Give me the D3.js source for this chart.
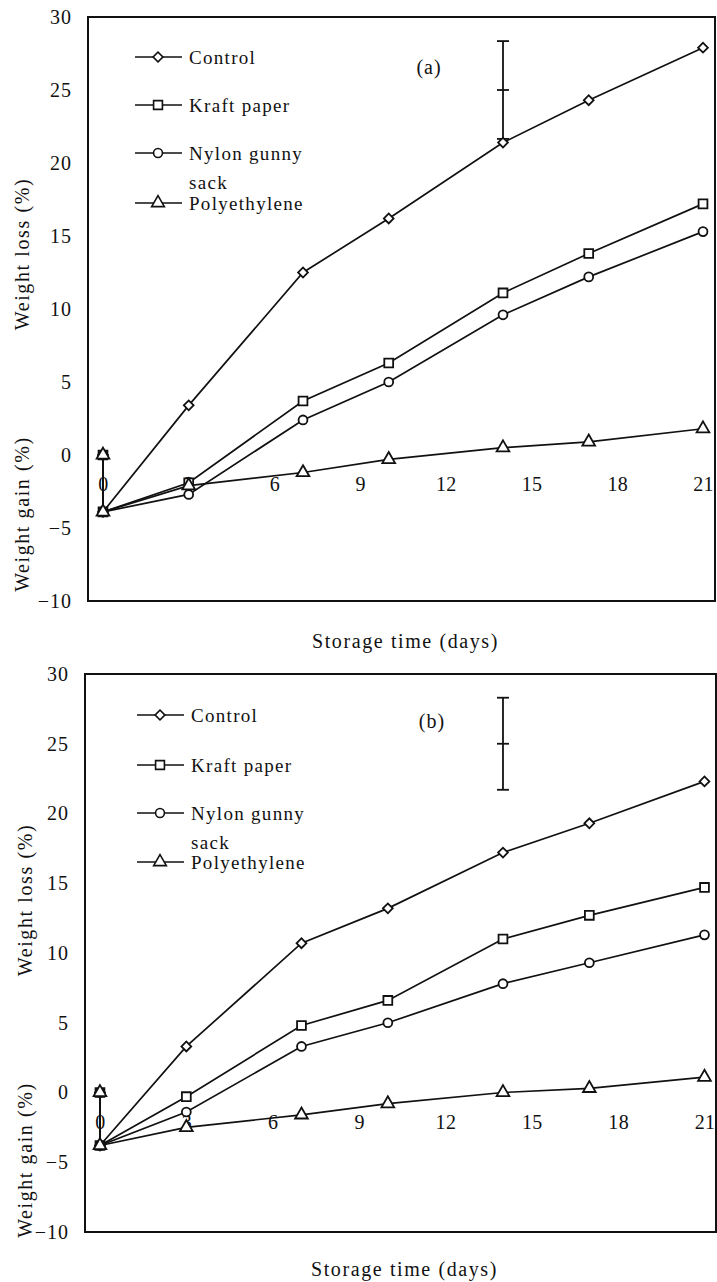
<!DOCTYPE html>
<html lang="en">
<head>
  <meta charset="UTF-8">
  <title>Weight loss during storage</title>
  <script src="https://cdn.jsdelivr.net/npm/d3@7"></script>
  <style>
    body { margin: 0; background: #fff; }
    svg text {
      font-family: "Liberation Serif", "Times New Roman", serif;
      fill: #111;
    }
    .tick-label { font-size: 20px; letter-spacing: 1px; }
    .x-tick { letter-spacing: 0.3px; }
    .axis-title { font-size: 20px; letter-spacing: 1.6px; }
    .legend-label { font-size: 19px; letter-spacing: 1.3px; }
    .panel-label { font-size: 20px; letter-spacing: 1px; }
  </style>
</head>
<body>
  <div id="chart"></div>

  <script>
    // Storage days (day 0 appears twice: start value and first reading)
    const days = [0, 0, 3, 7, 10, 14, 17, 21];
    const xTicks = [0, 3, 6, 9, 12, 15, 18, 21];
    const yTicks = [-10, -5, 0, 5, 10, 15, 20, 25, 30];
    const seriesNames = ['Control', 'Kraft paper', 'Nylon gunny sack', 'Polyethylene'];

    // Panel (a)
    const controlA = [0, -3.9, 3.4, 12.5, 16.2, 21.4, 24.3, 27.9];
    const kraftA   = [0, -3.9, -1.9, 3.7, 6.3, 11.1, 13.8, 17.2];
    const nylonA   = [0, -3.9, -2.7, 2.4, 5.0, 9.6, 12.2, 15.3];
    const polyA    = [0, -3.9, -2.1, -1.2, -0.3, 0.5, 0.9, 1.8];
    const lsdA     = [14, 25, 3.35];   // day, centre, half length

    // Panel (b)
    const controlB = [0, -3.8, 3.3, 10.7, 13.2, 17.2, 19.3, 22.3];
    const kraftB   = [0, -3.8, -0.3, 4.8, 6.6, 11.0, 12.7, 14.7];
    const nylonB   = [0, -3.8, -1.4, 3.3, 5.0, 7.8, 9.3, 11.3];
    const polyB    = [0, -3.8, -2.5, -1.6, -0.8, 0.0, 0.3, 1.1];
    const lsdB     = [14, 25, 3.3];

    // diamond = square turned 45 degrees
    const symbols = [d3.symbolSquare, d3.symbolSquare, d3.symbolCircle, d3.symbolTriangle];
    const symbolSizes = [48, 78, 62, 70];
    const symbolTurn = [45, 0, 0, 0];

    const svg = d3.select('#chart')
      .append('svg')
        .attr('width', 717)
        .attr('height', 1282);

    drawPanel({
      label: '(a)',
      series: [controlA, kraftA, nylonA, polyA],
      lsd: lsdA,
      left: 88, right: 715, top: 17, bottom: 601,
      xDomain: [-0.525, 21.42],
      lossTitleY: 254, gainTitleY: 514, titleX: 22,
      xTitleY: 648,
      labelPos: [429, 74],
      legend: { x: 135, ys: [57, 105, 153, 203], sackY: 182 }
    });

    drawPanel({
      label: '(b)',
      series: [controlB, kraftB, nylonB, polyB],
      lsd: lsdB,
      left: 85, right: 716, top: 674, bottom: 1232,
      xDomain: [-0.52, 21.4],
      lossTitleY: 900, gainTitleY: 1160, titleX: 25,
      xTitleY: 1276,
      labelPos: [432, 728],
      legend: { x: 137, ys: [715, 765, 813, 862], sackY: 842 }
    });

    function marker(si) {
      return d3.symbol().type(symbols[si]).size(symbolSizes[si])();
    }

    function drawPanel(p) {
      const x = d3.scaleLinear().domain(p.xDomain).range([p.left, p.right]);
      const y = d3.scaleLinear().domain([-10, 30]).range([p.bottom, p.top]);
      const g = svg.append('g');

      // Frame
      g.append('rect')
        .attr('x', p.left).attr('y', p.top)
        .attr('width', p.right - p.left).attr('height', p.bottom - p.top)
        .attr('fill', 'none').attr('stroke', '#111').attr('stroke-width', 2);

      // Y axis labels
      const yAxis = g.append('g')
        .attr('transform', `translate(${p.left},0)`)
        .call(d3.axisLeft(y).tickValues(yTicks).tickSize(0).tickPadding(16));
      yAxis.select('.domain').remove();
      yAxis.selectAll('text').attr('class', 'tick-label').attr('font-family', null).attr('font-size', null);

      // X axis labels sit along zero line (no line drawn)
      const xAxis = g.append('g')
        .attr('transform', `translate(0,${y(0)})`)
        .call(d3.axisBottom(x).tickValues(xTicks).tickSize(0).tickPadding(22));
      xAxis.select('.domain').remove();
      xAxis.selectAll('text').attr('class', 'tick-label x-tick').attr('font-family', null).attr('font-size', null);

      // Axis titles
      g.append('text').attr('class', 'axis-title')
        .attr('transform', `translate(${p.titleX},${p.lossTitleY}) rotate(-90)`)
        .attr('text-anchor', 'middle').attr('dy', '0.35em')
        .text('Weight loss (%)');
      g.append('text').attr('class', 'axis-title')
        .attr('transform', `translate(${p.titleX},${p.gainTitleY}) rotate(-90)`)
        .attr('text-anchor', 'middle').attr('dy', '0.35em')
        .text('Weight gain (%)');
      g.append('text').attr('class', 'axis-title')
        .attr('x', (p.left + p.right) / 2 + 4).attr('y', p.xTitleY)
        .attr('text-anchor', 'middle')
        .text('Storage time (days)');

      // Panel label
      g.append('text').attr('class', 'panel-label')
        .attr('x', p.labelPos[0]).attr('y', p.labelPos[1])
        .attr('text-anchor', 'middle')
        .text(p.label);

      // LSD bar
      const [ed, em, eh] = p.lsd;
      const bar = g.append('g').attr('stroke', '#111').attr('stroke-width', 1.8);
      bar.append('line')
        .attr('x1', x(ed)).attr('x2', x(ed))
        .attr('y1', y(em + eh)).attr('y2', y(em - eh));
      [em + eh, em, em - eh].forEach(v => {
        bar.append('line')
          .attr('x1', x(ed) - 6).attr('x2', x(ed) + 6)
          .attr('y1', y(v)).attr('y2', y(v));
      });

      // Lines
      const line = d3.line().x((d, i) => x(days[i])).y(d => y(d));
      g.append('g').selectAll('path')
        .data(p.series)
        .enter()
        .append('path')
          .attr('d', d => line(d))
          .attr('fill', 'none')
          .attr('stroke', '#111')
          .attr('stroke-width', 1.7);

      // Markers
      p.series.forEach((vals, si) => {
        g.append('g').selectAll('path')
          .data(vals)
          .enter()
          .append('path')
            .attr('d', marker(si))
            .attr('transform', (d, i) => `translate(${x(days[i])},${y(d)}) rotate(${symbolTurn[si]})`)
            .attr('fill', '#fff')
            .attr('stroke', '#111')
            .attr('stroke-width', 1.8);
      });

      // Legend
      const lg = p.legend;
      p.series.forEach((vals, si) => {
        const ly = lg.ys[si];
        g.append('line')
          .attr('x1', lg.x).attr('x2', lg.x + 47)
          .attr('y1', ly).attr('y2', ly)
          .attr('stroke', '#111').attr('stroke-width', 1.5);
        g.append('path')
          .attr('d', marker(si))
          .attr('transform', `translate(${lg.x + 23},${ly}) rotate(${symbolTurn[si]})`)
          .attr('fill', '#fff').attr('stroke', '#111').attr('stroke-width', 1.6);
        const name = seriesNames[si] === 'Nylon gunny sack' ? 'Nylon gunny' : seriesNames[si];
        g.append('text').attr('class', 'legend-label')
          .attr('x', lg.x + 54).attr('y', ly).attr('dy', '0.35em')
          .text(name);
      });
      g.append('text').attr('class', 'legend-label')
        .attr('x', lg.x + 54).attr('y', lg.sackY).attr('dy', '0.35em')
        .text('sack');
    }
  </script>
</body>
</html>
